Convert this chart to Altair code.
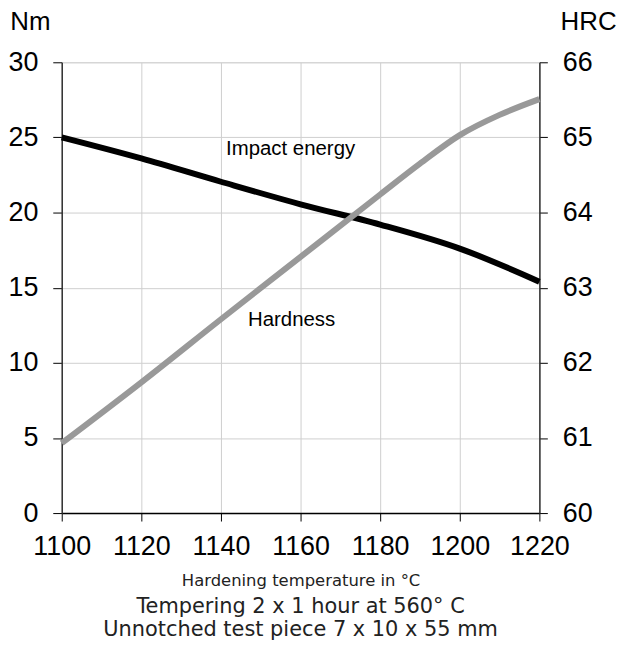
import altair as alt
import pandas as pd

# Data
temps_impact = [1100, 1120, 1140, 1160, 1180, 1200, 1220]
impact_nm = [25.0, 23.6, 22.05, 20.55, 19.2, 17.6, 15.4]

temps_hard = [1100, 1120, 1140, 1160, 1180, 1190, 1200, 1210, 1220]
hardness_hrc = [60.93, 61.74, 62.58, 63.41, 64.24, 64.65, 65.03, 65.3, 65.51]

x_ticks = [1100, 1120, 1140, 1160, 1180, 1200, 1220]
nm_ticks = [0, 5, 10, 15, 20, 25, 30]
hrc_ticks = [60, 61, 62, 63, 64, 65, 66]

label_text = ["Impact energy", "Hardness"]
label_temp = [1157.5, 1157.75]
label_nm = [24.24, 12.85]

df_i = pd.DataFrame({"t": temps_impact, "v": impact_nm})
df_h = pd.DataFrame({"t": temps_hard, "h": hardness_hrc})
df_l = pd.DataFrame({"t": label_temp, "v": label_nm, "s": label_text})

FONT = "Liberation Sans"

x_enc = alt.X(
    "t:Q",
    scale=alt.Scale(domain=[1100, 1220], nice=False, zero=False),
    axis=alt.Axis(
        values=x_ticks, title="Hardening temperature in °C", format="d",
        labelOverlap=False, labelFlush=False,
        labelFont=FONT, labelFontSize=27, labelColor="black",
        labelPadding=13, tickSize=8, tickColor="black",
        domainColor="black", domainWidth=1.5,
        gridColor="#cfcfcf", gridWidth=1,
        titleFont="DejaVu Sans", titleFontSize=16.5, titleFontWeight="normal",
        titleColor="#222", titlePadding=13,
    ),
)

impact = alt.Chart(df_i).mark_line(
    color="black", strokeWidth=6, interpolate="monotone"
).encode(
    x=x_enc,
    y=alt.Y(
        "v:Q",
        scale=alt.Scale(domain=[0, 30], nice=False),
        axis=alt.Axis(
            orient="left", values=nm_ticks, title="Nm",
            labelFont=FONT, labelFontSize=27, labelColor="black",
            labelPadding=15, tickSize=9, tickColor="black",
            domainColor="#333", domainWidth=1.5,
            gridColor="#cfcfcf", gridWidth=1,
            titleFont=FONT, titleFontSize=26, titleFontWeight="normal",
            titleColor="black", titleAngle=0, titleAlign="center",
            titleBaseline="alphabetic", titleX=-32, titleY=-33,
        ),
    ),
)

labels = alt.Chart(df_l).mark_text(
    font=FONT, fontSize=20.5, color="black"
).encode(
    x=alt.X("t:Q"),
    y=alt.Y("v:Q"),
    text="s:N",
)

hard = alt.Chart(df_h).mark_line(
    color="#999999", strokeWidth=6, interpolate="monotone"
).encode(
    x=x_enc,
    y=alt.Y(
        "h:Q",
        scale=alt.Scale(domain=[60, 66], nice=False, zero=False),
        axis=alt.Axis(
            orient="right", values=hrc_ticks, title="HRC", grid=False,
            labelFont=FONT, labelFontSize=27, labelColor="black",
            labelPadding=15, tickSize=8, tickColor="black",
            domainColor="#333", domainWidth=1.5,
            titleFont=FONT, titleFontSize=26, titleFontWeight="normal",
            titleColor="black", titleAngle=0, titleAlign="center",
            titleBaseline="alphabetic", titleX=49, titleY=-33,
        ),
    ),
)

chart = alt.layer(alt.layer(impact, labels), hard).resolve_scale(
    y="independent"
).properties(
    width=480,
    height=453,
    padding={"left": -1, "top": -1, "right": 0, "bottom": -1},
    title=alt.TitleParams(
        ["Tempering 2 x 1 hour at 560° C", "Unnotched test piece 7 x 10 x 55 mm"],
        orient="bottom", anchor="middle", font="DejaVu Sans", fontSize=21,
        fontWeight="normal", color="#222", lineHeight=23, offset=7,
    ),
).configure_view(stroke="#999999", strokeWidth=1.5).configure(background="white")

chart.save("out.html", embed_options={"renderer": "svg", "actions": False})
